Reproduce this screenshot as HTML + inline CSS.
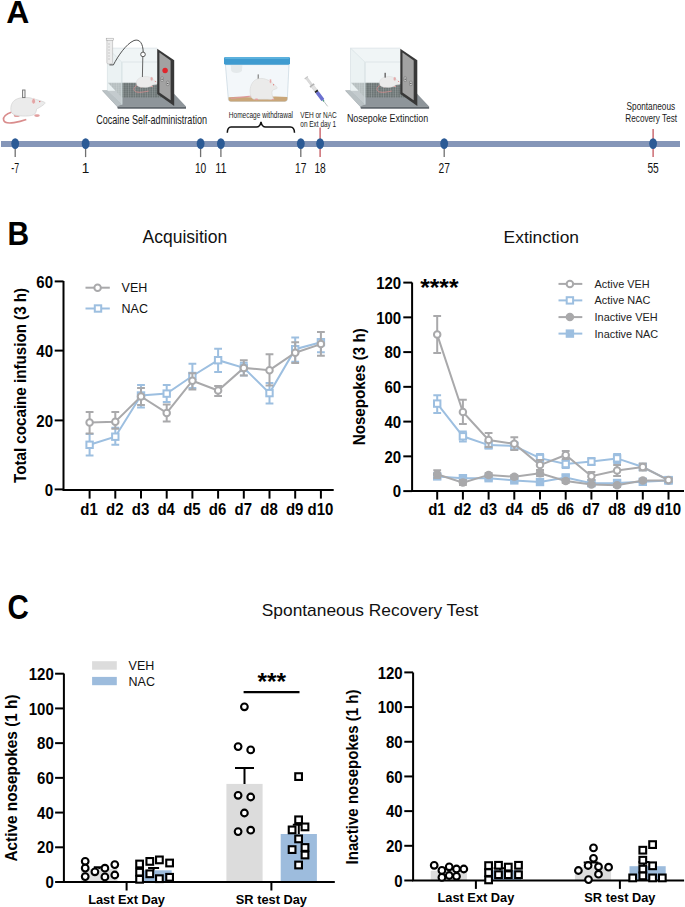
<!DOCTYPE html>
<html><head><meta charset="utf-8"><style>
html,body{margin:0;padding:0;background:#fff;width:685px;height:907px;overflow:hidden}
svg{display:block;font-family:"Liberation Sans",sans-serif}
</style></head><body>
<svg width="685" height="907" viewBox="0 0 685 907">
<defs>
<pattern id="grid" width="2.4" height="2.0" patternUnits="userSpaceOnUse">
<rect width="2.4" height="2.0" fill="#646d6d"/>
<ellipse cx="1.2" cy="1.0" rx="0.8" ry="0.55" fill="#b4bbbb"/>
</pattern>

</defs>
<!-- mouse A -->
<path d="M12,112 C6,114 3,117 3.6,120 C4.2,123 9,123.3 14,122.6 C19,122 23,120.8 26.3,119.6" fill="none" stroke="#d98c8c" stroke-width="1.6"/>
<ellipse cx="16.8" cy="115.6" rx="3" ry="1.5" fill="#e19f9f"/>
<ellipse cx="37" cy="115.6" rx="2.8" ry="1.4" fill="#e19f9f"/>
<path d="M11.4,112.4 C10.2,109 10.6,103 15,100 C18,98 22,97.4 26.3,97.5 C29,97.5 31.5,98 33.5,98.8 C36,99.5 38,100 40,100.6 L44.6,102.2 C45.3,102.6 45,103.6 44.2,104.2 L41.2,106.4 C39.5,107.4 37.5,108.5 36.6,109.2 C36.2,111.5 35.8,113.5 34,114.6 C31,116 27,116.2 22,116 C17,115.8 13,115 11.4,112.4 Z" fill="#ebebeb" stroke="#d2d2d2" stroke-width="0.7"/>
<ellipse cx="33.6" cy="101.2" rx="2" ry="2.9" fill="#e3a5a5" stroke="#f2f2f2" stroke-width="0.8"/>
<circle cx="39.8" cy="101.6" r="0.6" fill="#d8333b"/>
<rect x="22.6" y="90" width="2.4" height="7.6" fill="#f4f4f4" stroke="#6e6e6e" stroke-width="0.9"/>
<!-- chamber 1 -->
<g>
<polygon points="102,90.5 171,90.5 186,106.6 117.1,106.6" fill="#8e959a"/>
<polygon points="117.1,106.6 186,106.6 186,108.7 117.8,108.7" fill="#5f666c"/>
<polygon points="107.4,48.1 157.2,48.1 157.2,90.5 107.4,90.5" fill="#f0f5f6"/>
<polygon points="122.2,61.6 157.2,61.6 157.2,62.4 122.2,62.4" fill="#dde6e8"/>
<polygon points="107.9,82.8 157.8,82.8 168,97.4 121.7,97.4" fill="url(#grid)"/>
<polygon points="107.4,48.1 121.9,62.2 121.9,104.6 107.4,90.5" fill="#e8f0f2" fill-opacity="0.6" stroke="#d3dde0" stroke-width="0.6"/>
<polygon points="102.2,90.6 107.4,90.6 121.9,104.6 116.9,106.4" fill="#b9c1c4"/>
<line x1="121.9" y1="62.2" x2="121.9" y2="104.6" stroke="#d3dde0" stroke-width="0.6"/>
<line x1="107.4" y1="48.1" x2="157.2" y2="48.1" stroke="#d3dde0" stroke-width="0.6"/>
<g transform="translate(134.5,74.6) scale(0.245,0.235)">
<path d="M12,46 C-4,50 -8,70 8,74 C24,78 40,73 58,70" fill="none" stroke="#d98e8e" stroke-width="3.2"/>
<ellipse cx="28" cy="51" rx="7" ry="3.5" fill="#e4a2a2"/>
<ellipse cx="70" cy="50" rx="6" ry="3" fill="#e4a2a2"/>
<path d="M8,40 C4,24 20,8 44,8 C58,7 68,12 76,20 L94,33 C98,36 96,41 90,42 L74,44 C66,54 44,56 26,54 C14,52 9,47 8,40 Z" fill="#ebebeb" stroke="#cdcdcd" stroke-width="1.2"/>
<ellipse cx="70" cy="18" rx="5" ry="8" fill="#e6aaaa" stroke="#dcdcdc" stroke-width="1"/>
<circle cx="85" cy="30" r="2" fill="#d8333b"/>
</g>
<polygon points="157.2,48.8 174.2,60.2 174.2,106 157.2,94" fill="#383838"/>
<polygon points="159.4,52.6 170.6,60.4 170.6,100.2 159.4,92.6" fill="#a2a2a2"/>
<rect x="160.8" y="77" width="2.6" height="4.4" rx="0.8" fill="#c9c9c9" stroke="#666" stroke-width="0.5"/>
<rect x="166.4" y="81.2" width="2.6" height="4.4" rx="0.8" fill="#c9c9c9" stroke="#666" stroke-width="0.5"/>
<circle cx="162.1" cy="79.2" r="0.7" fill="#555"/>
<circle cx="167.7" cy="83.4" r="0.7" fill="#555"/>
</g>
<circle cx="165.1" cy="70.5" r="2.7" fill="#e0262c"/>
<rect x="106.9" y="39.5" width="5.7" height="24.5" rx="1.5" fill="#ececec" stroke="#b0b0b0" stroke-width="0.6"/><path d="M108,44 h2 M108,47 h2 M108,50 h2 M108,53 h2 M108,56 h2 M108,59 h2" stroke="#999" stroke-width="0.4"/>
<rect x="106.2" y="38.2" width="7.1" height="2" fill="#f7f7f7" stroke="#999" stroke-width="0.5"/>
<path d="M109.4,64.9 L113.4,64.9 C118,56 126,44 134,40.5 C140,38.5 143,44 143.2,52" fill="none" stroke="#333" stroke-width="0.85"/>
<circle cx="143" cy="54.4" r="2.3" fill="#fff" stroke="#333" stroke-width="0.8"/>
<line x1="142.8" y1="56.7" x2="142.4" y2="77" stroke="#555" stroke-width="0.9"/>
<!-- chamber 2 -->
<g transform="translate(243.1,0)">
<polygon points="102,90.5 171,90.5 186,106.6 117.1,106.6" fill="#8e959a"/>
<polygon points="117.1,106.6 186,106.6 186,108.7 117.8,108.7" fill="#5f666c"/>
<polygon points="107.4,48.1 157.2,48.1 157.2,90.5 107.4,90.5" fill="#f0f5f6"/>
<polygon points="122.2,61.6 157.2,61.6 157.2,62.4 122.2,62.4" fill="#dde6e8"/>
<polygon points="107.9,82.8 157.8,82.8 168,97.4 121.7,97.4" fill="url(#grid)"/>
<polygon points="107.4,48.1 121.9,62.2 121.9,104.6 107.4,90.5" fill="#e8f0f2" fill-opacity="0.6" stroke="#d3dde0" stroke-width="0.6"/>
<polygon points="102.2,90.6 107.4,90.6 121.9,104.6 116.9,106.4" fill="#b9c1c4"/>
<line x1="121.9" y1="62.2" x2="121.9" y2="104.6" stroke="#d3dde0" stroke-width="0.6"/>
<line x1="107.4" y1="48.1" x2="157.2" y2="48.1" stroke="#d3dde0" stroke-width="0.6"/>
<g transform="translate(134.5,74.6) scale(0.245,0.235)">
<path d="M12,46 C-4,50 -8,70 8,74 C24,78 40,73 58,70" fill="none" stroke="#d98e8e" stroke-width="3.2"/>
<ellipse cx="28" cy="51" rx="7" ry="3.5" fill="#e4a2a2"/>
<ellipse cx="70" cy="50" rx="6" ry="3" fill="#e4a2a2"/>
<path d="M8,40 C4,24 20,8 44,8 C58,7 68,12 76,20 L94,33 C98,36 96,41 90,42 L74,44 C66,54 44,56 26,54 C14,52 9,47 8,40 Z" fill="#ebebeb" stroke="#cdcdcd" stroke-width="1.2"/>
<ellipse cx="70" cy="18" rx="5" ry="8" fill="#e6aaaa" stroke="#dcdcdc" stroke-width="1"/>
<circle cx="85" cy="30" r="2" fill="#d8333b"/>
</g>
<polygon points="157.2,48.8 174.2,60.2 174.2,106 157.2,94" fill="#383838"/>
<polygon points="159.4,52.6 170.6,60.4 170.6,100.2 159.4,92.6" fill="#a2a2a2"/>
<rect x="160.8" y="77" width="2.6" height="4.4" rx="0.8" fill="#c9c9c9" stroke="#666" stroke-width="0.5"/>
<rect x="166.4" y="81.2" width="2.6" height="4.4" rx="0.8" fill="#c9c9c9" stroke="#666" stroke-width="0.5"/>
<circle cx="162.1" cy="79.2" r="0.7" fill="#555"/>
<circle cx="167.7" cy="83.4" r="0.7" fill="#555"/>
</g>
<rect x="384.4" y="72.8" width="1.6" height="4.8" fill="#777"/>
<!-- homecage -->
<path d="M225.4,64.6 L289,64.6 L287.3,99.6 Q287.1,101.4 285,101.4 L230.6,101.4 Q228.6,101.4 228.4,99.6 Z" fill="#f3f7fa" stroke="#c6d6e0" stroke-width="0.7"/>
<path d="M228.5,97.2 Q236,96.3 244,96.9 Q256,97.6 266,96.7 Q277,96 287.4,96.9 L287.3,99.6 Q287.1,101.4 285,101.4 L230.6,101.4 Q228.6,101.4 228.5,99.6 Z" fill="#c9a679"/>
<path d="M230.7,64.6 L242.4,64.6 L242,70.5 Q241,72.9 236.5,72.9 Q231.8,72.9 231.2,70.5 Z" fill="#e4e9eb"/>
<rect x="224" y="57.1" width="66" height="7.6" rx="1.4" fill="#3f9bd0"/>
<rect x="224.8" y="57.1" width="64.4" height="1.8" rx="0.9" fill="#5cb1dd"/>
<path d="M252,96 C245,96.8 238,97.8 230.8,98.2" fill="none" stroke="#de9a9a" stroke-width="1.2"/>
<rect x="257.6" y="74.4" width="1.3" height="5" fill="#8a8a8a"/>
<path d="M251.5,97.5 C249,93 249.5,84.5 254.5,80.5 C258,77.8 263,78 266.5,79.5 C268.5,80.3 270.5,81 272,82.5 L277.2,87.4 C277.5,88.2 276.8,88.8 275.6,89 C274.2,89.4 273,89.8 272.2,90.8 C271.6,93 272.2,96.5 273.6,98.6 C274,99.4 273,99.6 271.8,99.4 C266,99.2 258,99.4 254,99.2 C252.8,99 251.9,98.4 251.5,97.5 Z" fill="#ebebea" stroke="#d2d2d0" stroke-width="0.5"/>
<ellipse cx="270.5" cy="81.2" rx="1.1" ry="2.2" fill="#e6a9a9" stroke="#f3f3f3" stroke-width="0.5"/>
<circle cx="273.6" cy="84.8" r="0.5" fill="#d33"/>
<ellipse cx="256.5" cy="99.4" rx="1.8" ry="0.8" fill="#e3a0a0"/>
<ellipse cx="273" cy="99.4" rx="1.4" ry="0.7" fill="#e3a0a0"/>
<!-- syringe -->
<g transform="translate(305.9,77.2) rotate(53.3)">
<rect x="0" y="-2" width="1.3" height="4" fill="#c4c4c4"/>
<rect x="1" y="-1.1" width="8.5" height="2.2" fill="#dcdcdc" stroke="#bdbdbd" stroke-width="0.3"/>
<rect x="9.5" y="-2.6" width="1.7" height="5.2" fill="#b0b0b0"/>
<rect x="11" y="-1.6" width="5.8" height="3.2" fill="#e2e2e2" stroke="#bdbdbd" stroke-width="0.3"/>
<rect x="16.8" y="-1.75" width="1.9" height="3.5" fill="#222"/>
<rect x="18.6" y="-1.75" width="10" height="3.5" rx="0.6" fill="#6b70d0"/>
<rect x="28.6" y="-0.8" width="1.6" height="1.6" fill="#4f9c84"/>
<line x1="30.2" y1="0" x2="36.4" y2="0" stroke="#9aa4a4" stroke-width="0.6"/>
</g>

<text transform="translate(6.30,22.60) scale(1.065,1.06)" x="0" y="0" font-size="30" text-anchor="start" font-weight="bold" fill="#000" >A</text>
<rect x="1" y="141" width="679" height="6" fill="#8596b8"/>
<line x1="15.2" y1="147" x2="15.2" y2="157.1" stroke="#707070" stroke-width="1.3"/>
<ellipse cx="15.2" cy="143.6" rx="3.9" ry="5.4" fill="#2b5a95"/>
<text transform="translate(15.20,172.90) scale(1,1.09)" x="0" y="0" font-size="13.6" text-anchor="middle" font-weight="normal" fill="#111" textLength="7.8" lengthAdjust="spacingAndGlyphs" >-7</text>
<line x1="85.6" y1="147" x2="85.6" y2="157.1" stroke="#707070" stroke-width="1.3"/>
<ellipse cx="85.6" cy="143.6" rx="3.9" ry="5.4" fill="#2b5a95"/>
<text transform="translate(85.60,172.90) scale(1,1.09)" x="0" y="0" font-size="13.6" text-anchor="middle" font-weight="normal" fill="#111" >1</text>
<line x1="200.6" y1="147" x2="200.6" y2="157.1" stroke="#707070" stroke-width="1.3"/>
<ellipse cx="200.6" cy="143.6" rx="3.9" ry="5.4" fill="#2b5a95"/>
<text transform="translate(200.60,172.90) scale(1,1.09)" x="0" y="0" font-size="13.6" text-anchor="middle" font-weight="normal" fill="#111" textLength="11.4" lengthAdjust="spacingAndGlyphs" >10</text>
<line x1="220.9" y1="147" x2="220.9" y2="157.1" stroke="#707070" stroke-width="1.3"/>
<ellipse cx="220.9" cy="143.6" rx="3.9" ry="5.4" fill="#2b5a95"/>
<text transform="translate(220.90,172.90) scale(1,1.09)" x="0" y="0" font-size="13.6" text-anchor="middle" font-weight="normal" fill="#111" textLength="11.4" lengthAdjust="spacingAndGlyphs" >11</text>
<line x1="300.8" y1="147" x2="300.8" y2="157.1" stroke="#707070" stroke-width="1.3"/>
<ellipse cx="300.8" cy="143.6" rx="3.9" ry="5.4" fill="#2b5a95"/>
<text transform="translate(300.80,172.90) scale(1,1.09)" x="0" y="0" font-size="13.6" text-anchor="middle" font-weight="normal" fill="#111" textLength="11.4" lengthAdjust="spacingAndGlyphs" >17</text>
<line x1="320.1" y1="127.5" x2="320.1" y2="157" stroke="#c4545c" stroke-width="1.3"/>
<ellipse cx="320.1" cy="143.6" rx="3.9" ry="5.4" fill="#2b5a95"/>
<text transform="translate(320.10,172.90) scale(1,1.09)" x="0" y="0" font-size="13.6" text-anchor="middle" font-weight="normal" fill="#111" textLength="11.4" lengthAdjust="spacingAndGlyphs" >18</text>
<line x1="444.2" y1="147" x2="444.2" y2="157.1" stroke="#707070" stroke-width="1.3"/>
<ellipse cx="444.2" cy="143.6" rx="3.9" ry="5.4" fill="#2b5a95"/>
<text transform="translate(444.20,172.90) scale(1,1.09)" x="0" y="0" font-size="13.6" text-anchor="middle" font-weight="normal" fill="#111" textLength="11.4" lengthAdjust="spacingAndGlyphs" >27</text>
<line x1="653.1" y1="129" x2="653.1" y2="157" stroke="#c4545c" stroke-width="1.3"/>
<ellipse cx="653.1" cy="143.6" rx="3.9" ry="5.4" fill="#2b5a95"/>
<text transform="translate(653.10,172.90) scale(1,1.09)" x="0" y="0" font-size="13.6" text-anchor="middle" font-weight="normal" fill="#111" textLength="11.4" lengthAdjust="spacingAndGlyphs" >55</text>
<text x="96.20" y="123.90" font-size="13.6" text-anchor="start" font-weight="normal" fill="#1a1a1a" textLength="110.8" lengthAdjust="spacingAndGlyphs" >Cocaine Self-administration</text>
<text x="228.80" y="118.30" font-size="9.5" text-anchor="start" font-weight="normal" fill="#1a1a1a" textLength="64.2" lengthAdjust="spacingAndGlyphs" >Homecage withdrawal</text>
<text x="300.30" y="118.30" font-size="9.8" text-anchor="start" font-weight="normal" fill="#1a1a1a" textLength="36.5" lengthAdjust="spacingAndGlyphs" >VEH or NAC</text>
<text x="300.30" y="127.40" font-size="9.8" text-anchor="start" font-weight="normal" fill="#1a1a1a" textLength="35.9" lengthAdjust="spacingAndGlyphs" >on Ext day 1</text>
<text x="346.90" y="122.40" font-size="11.6" text-anchor="start" font-weight="normal" fill="#1a1a1a" textLength="81.3" lengthAdjust="spacingAndGlyphs" >Nosepoke Extinction</text>
<text x="626.60" y="110.40" font-size="11.6" text-anchor="start" font-weight="normal" fill="#1a1a1a" textLength="48.5" lengthAdjust="spacingAndGlyphs" >Spontaneous</text>
<text x="625.30" y="121.60" font-size="11.6" text-anchor="start" font-weight="normal" fill="#1a1a1a" textLength="51.8" lengthAdjust="spacingAndGlyphs" >Recovery Test</text>
<path d="M227.3,132.8 Q227.5,127 231,127 L256.5,127 Q260,127 261,121.8 Q262,127 265.6,127 L290.5,127 Q294.3,127 294.5,132.8" fill="none" stroke="#111" stroke-width="1.5"/>
<text transform="translate(7.60,245.00) scale(1,1.09)" x="0" y="0" font-size="30" text-anchor="start" font-weight="bold" fill="#000" >B</text>
<text x="142.60" y="243.20" font-size="17.5" text-anchor="start" font-weight="normal" fill="#111" >Acquisition</text>
<text x="503.60" y="243.20" font-size="17.4" text-anchor="start" font-weight="normal" fill="#111" >Extinction</text>
<path d="M63.5,281 V490 H333.7" fill="none" stroke="#000" stroke-width="2"/>
<line x1="54.7" y1="281.4" x2="63.5" y2="281.4" stroke="#000" stroke-width="2"/>
<text transform="translate(53.00,281.40) scale(1,1.15)" x="0" y="5.35" font-size="15" text-anchor="end" font-weight="bold" fill="#000" >60</text>
<line x1="54.7" y1="350.6" x2="63.5" y2="350.6" stroke="#000" stroke-width="2"/>
<text transform="translate(53.00,350.60) scale(1,1.15)" x="0" y="5.35" font-size="15" text-anchor="end" font-weight="bold" fill="#000" >40</text>
<line x1="54.7" y1="420.4" x2="63.5" y2="420.4" stroke="#000" stroke-width="2"/>
<text transform="translate(53.00,420.40) scale(1,1.15)" x="0" y="5.35" font-size="15" text-anchor="end" font-weight="bold" fill="#000" >20</text>
<line x1="54.7" y1="489.4" x2="63.5" y2="489.4" stroke="#000" stroke-width="2"/>
<text transform="translate(53.00,489.40) scale(1,1.15)" x="0" y="5.35" font-size="15" text-anchor="end" font-weight="bold" fill="#000" >0</text>
<line x1="89.6" y1="490" x2="89.6" y2="498.6" stroke="#000" stroke-width="2"/>
<text transform="translate(89.10,514.80) scale(1.0,1.09)" x="0" y="0" font-size="15" text-anchor="middle" font-weight="bold" fill="#000" >d1</text>
<line x1="115.3" y1="490" x2="115.3" y2="498.6" stroke="#000" stroke-width="2"/>
<text transform="translate(114.80,514.80) scale(1.0,1.09)" x="0" y="0" font-size="15" text-anchor="middle" font-weight="bold" fill="#000" >d2</text>
<line x1="141.0" y1="490" x2="141.0" y2="498.6" stroke="#000" stroke-width="2"/>
<text transform="translate(140.50,514.80) scale(1.0,1.09)" x="0" y="0" font-size="15" text-anchor="middle" font-weight="bold" fill="#000" >d3</text>
<line x1="166.7" y1="490" x2="166.7" y2="498.6" stroke="#000" stroke-width="2"/>
<text transform="translate(166.20,514.80) scale(1.0,1.09)" x="0" y="0" font-size="15" text-anchor="middle" font-weight="bold" fill="#000" >d4</text>
<line x1="192.39999999999998" y1="490" x2="192.39999999999998" y2="498.6" stroke="#000" stroke-width="2"/>
<text transform="translate(191.90,514.80) scale(1.0,1.09)" x="0" y="0" font-size="15" text-anchor="middle" font-weight="bold" fill="#000" >d5</text>
<line x1="218.1" y1="490" x2="218.1" y2="498.6" stroke="#000" stroke-width="2"/>
<text transform="translate(217.60,514.80) scale(1.0,1.09)" x="0" y="0" font-size="15" text-anchor="middle" font-weight="bold" fill="#000" >d6</text>
<line x1="243.79999999999998" y1="490" x2="243.79999999999998" y2="498.6" stroke="#000" stroke-width="2"/>
<text transform="translate(243.30,514.80) scale(1.0,1.09)" x="0" y="0" font-size="15" text-anchor="middle" font-weight="bold" fill="#000" >d7</text>
<line x1="269.5" y1="490" x2="269.5" y2="498.6" stroke="#000" stroke-width="2"/>
<text transform="translate(269.00,514.80) scale(1.0,1.09)" x="0" y="0" font-size="15" text-anchor="middle" font-weight="bold" fill="#000" >d8</text>
<line x1="295.2" y1="490" x2="295.2" y2="498.6" stroke="#000" stroke-width="2"/>
<text transform="translate(294.70,514.80) scale(1.0,1.09)" x="0" y="0" font-size="15" text-anchor="middle" font-weight="bold" fill="#000" >d9</text>
<line x1="320.9" y1="490" x2="320.9" y2="498.6" stroke="#000" stroke-width="2"/>
<text transform="translate(320.40,514.80) scale(1.0,1.09)" x="0" y="0" font-size="15" text-anchor="middle" font-weight="bold" fill="#000" >d10</text>
<text transform="translate(25.6,385.4) rotate(-90)" x="0" y="0" font-size="16.2" font-weight="bold" text-anchor="middle" textLength="195" lengthAdjust="spacingAndGlyphs">Total cocaine infusion (3 h)</text>
<path d="M89.6,434 V455.6 M85.69999999999999,434 H93.5 M85.69999999999999,455.6 H93.5" stroke="#9dbfe0" stroke-width="2" fill="none"/>
<path d="M115.3,427.7 V444.8 M111.39999999999999,427.7 H119.2 M111.39999999999999,444.8 H119.2" stroke="#9dbfe0" stroke-width="2" fill="none"/>
<path d="M141.0,385 V407.4 M137.1,385 H144.9 M137.1,407.4 H144.9" stroke="#9dbfe0" stroke-width="2" fill="none"/>
<path d="M166.7,385 V402.1 M162.79999999999998,385 H170.6 M162.79999999999998,402.1 H170.6" stroke="#9dbfe0" stroke-width="2" fill="none"/>
<path d="M192.39999999999998,363.7 V388 M188.49999999999997,363.7 H196.29999999999998 M188.49999999999997,388 H196.29999999999998" stroke="#9dbfe0" stroke-width="2" fill="none"/>
<path d="M218.1,348.7 V371.9 M214.2,348.7 H222.0 M214.2,371.9 H222.0" stroke="#9dbfe0" stroke-width="2" fill="none"/>
<path d="M243.79999999999998,362.7 V375.6 M239.89999999999998,362.7 H247.7 M239.89999999999998,375.6 H247.7" stroke="#9dbfe0" stroke-width="2" fill="none"/>
<path d="M269.5,383 V403.4 M265.6,383 H273.4 M265.6,403.4 H273.4" stroke="#9dbfe0" stroke-width="2" fill="none"/>
<path d="M295.2,337.5 V361.8 M291.3,337.5 H299.09999999999997 M291.3,361.8 H299.09999999999997" stroke="#9dbfe0" stroke-width="2" fill="none"/>
<path d="M320.9,339.5 V352.3 M317.0,339.5 H324.79999999999995 M317.0,352.3 H324.79999999999995" stroke="#9dbfe0" stroke-width="2" fill="none"/>
<polyline fill="none" stroke="#9dbfe0" stroke-width="2" points="89.6,444.8 115.3,436.7 141.0,395.5 166.7,393.6 192.39999999999998,376 218.1,360.2 243.79999999999998,367.9 269.5,393.1 295.2,349.2 320.9,342.2"/>
<rect x="86.39999999999999" y="441.6" width="6.4" height="6.4" fill="#fff" stroke="#9dbfe0" stroke-width="2"/>
<rect x="112.1" y="433.5" width="6.4" height="6.4" fill="#fff" stroke="#9dbfe0" stroke-width="2"/>
<rect x="137.8" y="392.3" width="6.4" height="6.4" fill="#fff" stroke="#9dbfe0" stroke-width="2"/>
<rect x="163.5" y="390.40000000000003" width="6.4" height="6.4" fill="#fff" stroke="#9dbfe0" stroke-width="2"/>
<rect x="189.2" y="372.8" width="6.4" height="6.4" fill="#fff" stroke="#9dbfe0" stroke-width="2"/>
<rect x="214.9" y="357.0" width="6.4" height="6.4" fill="#fff" stroke="#9dbfe0" stroke-width="2"/>
<rect x="240.6" y="364.7" width="6.4" height="6.4" fill="#fff" stroke="#9dbfe0" stroke-width="2"/>
<rect x="266.3" y="389.90000000000003" width="6.4" height="6.4" fill="#fff" stroke="#9dbfe0" stroke-width="2"/>
<rect x="292.0" y="346.0" width="6.4" height="6.4" fill="#fff" stroke="#9dbfe0" stroke-width="2"/>
<rect x="317.7" y="339.0" width="6.4" height="6.4" fill="#fff" stroke="#9dbfe0" stroke-width="2"/>
<path d="M89.6,412 V433.4 M85.69999999999999,412 H93.5 M85.69999999999999,433.4 H93.5" stroke="#a9a9ab" stroke-width="2" fill="none"/>
<path d="M115.3,412 V428.7 M111.39999999999999,412 H119.2 M111.39999999999999,428.7 H119.2" stroke="#a9a9ab" stroke-width="2" fill="none"/>
<path d="M141.0,387.9 V405 M137.1,387.9 H144.9 M137.1,405 H144.9" stroke="#a9a9ab" stroke-width="2" fill="none"/>
<path d="M166.7,404.6 V421.5 M162.79999999999998,404.6 H170.6 M162.79999999999998,421.5 H170.6" stroke="#a9a9ab" stroke-width="2" fill="none"/>
<path d="M192.39999999999998,373.3 V389.6 M188.49999999999997,373.3 H196.29999999999998 M188.49999999999997,389.6 H196.29999999999998" stroke="#a9a9ab" stroke-width="2" fill="none"/>
<path d="M218.1,385.9 V395.9 M214.2,385.9 H222.0 M214.2,395.9 H222.0" stroke="#a9a9ab" stroke-width="2" fill="none"/>
<path d="M243.79999999999998,360.2 V375.6 M239.89999999999998,360.2 H247.7 M239.89999999999998,375.6 H247.7" stroke="#a9a9ab" stroke-width="2" fill="none"/>
<path d="M269.5,354.3 V385.4 M265.6,354.3 H273.4 M265.6,385.4 H273.4" stroke="#a9a9ab" stroke-width="2" fill="none"/>
<path d="M295.2,342.2 V363 M291.3,342.2 H299.09999999999997 M291.3,363 H299.09999999999997" stroke="#a9a9ab" stroke-width="2" fill="none"/>
<path d="M320.9,332.1 V355.7 M317.0,332.1 H324.79999999999995 M317.0,355.7 H324.79999999999995" stroke="#a9a9ab" stroke-width="2" fill="none"/>
<polyline fill="none" stroke="#a9a9ab" stroke-width="2" points="89.6,422.6 115.3,421.7 141.0,396.4 166.7,412.9 192.39999999999998,380.7 218.1,390.5 243.79999999999998,367.9 269.5,370.2 295.2,352.7 320.9,344.1"/>
<circle cx="89.6" cy="422.6" r="3.25" fill="#fff" stroke="#a9a9ab" stroke-width="2"/>
<circle cx="115.3" cy="421.7" r="3.25" fill="#fff" stroke="#a9a9ab" stroke-width="2"/>
<circle cx="141.0" cy="396.4" r="3.25" fill="#fff" stroke="#a9a9ab" stroke-width="2"/>
<circle cx="166.7" cy="412.9" r="3.25" fill="#fff" stroke="#a9a9ab" stroke-width="2"/>
<circle cx="192.39999999999998" cy="380.7" r="3.25" fill="#fff" stroke="#a9a9ab" stroke-width="2"/>
<circle cx="218.1" cy="390.5" r="3.25" fill="#fff" stroke="#a9a9ab" stroke-width="2"/>
<circle cx="243.79999999999998" cy="367.9" r="3.25" fill="#fff" stroke="#a9a9ab" stroke-width="2"/>
<circle cx="269.5" cy="370.2" r="3.25" fill="#fff" stroke="#a9a9ab" stroke-width="2"/>
<circle cx="295.2" cy="352.7" r="3.25" fill="#fff" stroke="#a9a9ab" stroke-width="2"/>
<circle cx="320.9" cy="344.1" r="3.25" fill="#fff" stroke="#a9a9ab" stroke-width="2"/>
<line x1="85.5" y1="287.7" x2="109.8" y2="287.7" stroke="#a9a9ab" stroke-width="2"/>
<circle cx="97.6" cy="287.7" r="3.25" fill="#fff" stroke="#a9a9ab" stroke-width="2"/>
<line x1="85.5" y1="308.5" x2="109.8" y2="308.5" stroke="#9dbfe0" stroke-width="2"/>
<rect x="94.8" y="305.3" width="6.4" height="6.4" fill="#fff" stroke="#9dbfe0" stroke-width="2"/>
<text x="121.60" y="292.30" font-size="12.5" text-anchor="start" font-weight="normal" fill="#111" >VEH</text>
<text x="121.60" y="313.10" font-size="12.5" text-anchor="start" font-weight="normal" fill="#111" >NAC</text>
<path d="M412.1,282.4 V491.0 H684" fill="none" stroke="#000" stroke-width="2"/>
<line x1="403.3" y1="282.6" x2="412.1" y2="282.6" stroke="#000" stroke-width="2"/>
<text transform="translate(401.20,282.60) scale(1,1.15)" x="0" y="5.35" font-size="15" text-anchor="end" font-weight="bold" fill="#000" >120</text>
<line x1="403.3" y1="317.35" x2="412.1" y2="317.35" stroke="#000" stroke-width="2"/>
<text transform="translate(401.20,317.35) scale(1,1.15)" x="0" y="5.35" font-size="15" text-anchor="end" font-weight="bold" fill="#000" >100</text>
<line x1="403.3" y1="352.1" x2="412.1" y2="352.1" stroke="#000" stroke-width="2"/>
<text transform="translate(401.20,352.10) scale(1,1.15)" x="0" y="5.35" font-size="15" text-anchor="end" font-weight="bold" fill="#000" >80</text>
<line x1="403.3" y1="386.85" x2="412.1" y2="386.85" stroke="#000" stroke-width="2"/>
<text transform="translate(401.20,386.85) scale(1,1.15)" x="0" y="5.35" font-size="15" text-anchor="end" font-weight="bold" fill="#000" >60</text>
<line x1="403.3" y1="421.6" x2="412.1" y2="421.6" stroke="#000" stroke-width="2"/>
<text transform="translate(401.20,421.60) scale(1,1.15)" x="0" y="5.35" font-size="15" text-anchor="end" font-weight="bold" fill="#000" >40</text>
<line x1="403.3" y1="456.35" x2="412.1" y2="456.35" stroke="#000" stroke-width="2"/>
<text transform="translate(401.20,456.35) scale(1,1.15)" x="0" y="5.35" font-size="15" text-anchor="end" font-weight="bold" fill="#000" >20</text>
<line x1="403.3" y1="491.1" x2="412.1" y2="491.1" stroke="#000" stroke-width="2"/>
<text transform="translate(401.20,491.10) scale(1,1.15)" x="0" y="5.35" font-size="15" text-anchor="end" font-weight="bold" fill="#000" >0</text>
<line x1="437.2" y1="491.0" x2="437.2" y2="499.6" stroke="#000" stroke-width="2"/>
<text transform="translate(436.90,514.80) scale(1.0,1.06)" x="0" y="0" font-size="15" text-anchor="middle" font-weight="bold" fill="#000" >d1</text>
<line x1="462.9" y1="491.0" x2="462.9" y2="499.6" stroke="#000" stroke-width="2"/>
<text transform="translate(462.60,514.80) scale(1.0,1.06)" x="0" y="0" font-size="15" text-anchor="middle" font-weight="bold" fill="#000" >d2</text>
<line x1="488.59999999999997" y1="491.0" x2="488.59999999999997" y2="499.6" stroke="#000" stroke-width="2"/>
<text transform="translate(488.30,514.80) scale(1.0,1.06)" x="0" y="0" font-size="15" text-anchor="middle" font-weight="bold" fill="#000" >d3</text>
<line x1="514.3" y1="491.0" x2="514.3" y2="499.6" stroke="#000" stroke-width="2"/>
<text transform="translate(514.00,514.80) scale(1.0,1.06)" x="0" y="0" font-size="15" text-anchor="middle" font-weight="bold" fill="#000" >d4</text>
<line x1="540.0" y1="491.0" x2="540.0" y2="499.6" stroke="#000" stroke-width="2"/>
<text transform="translate(539.70,514.80) scale(1.0,1.06)" x="0" y="0" font-size="15" text-anchor="middle" font-weight="bold" fill="#000" >d5</text>
<line x1="565.7" y1="491.0" x2="565.7" y2="499.6" stroke="#000" stroke-width="2"/>
<text transform="translate(565.40,514.80) scale(1.0,1.06)" x="0" y="0" font-size="15" text-anchor="middle" font-weight="bold" fill="#000" >d6</text>
<line x1="591.4" y1="491.0" x2="591.4" y2="499.6" stroke="#000" stroke-width="2"/>
<text transform="translate(591.10,514.80) scale(1.0,1.06)" x="0" y="0" font-size="15" text-anchor="middle" font-weight="bold" fill="#000" >d7</text>
<line x1="617.1" y1="491.0" x2="617.1" y2="499.6" stroke="#000" stroke-width="2"/>
<text transform="translate(616.80,514.80) scale(1.0,1.06)" x="0" y="0" font-size="15" text-anchor="middle" font-weight="bold" fill="#000" >d8</text>
<line x1="642.8" y1="491.0" x2="642.8" y2="499.6" stroke="#000" stroke-width="2"/>
<text transform="translate(642.50,514.80) scale(1.0,1.06)" x="0" y="0" font-size="15" text-anchor="middle" font-weight="bold" fill="#000" >d9</text>
<line x1="668.5" y1="491.0" x2="668.5" y2="499.6" stroke="#000" stroke-width="2"/>
<text transform="translate(668.20,514.80) scale(1.0,1.06)" x="0" y="0" font-size="15" text-anchor="middle" font-weight="bold" fill="#000" >d10</text>
<text transform="translate(365,386.8) rotate(-90)" x="0" y="0" font-size="16.5" font-weight="bold" text-anchor="middle" textLength="117" lengthAdjust="spacingAndGlyphs">Nosepokes (3 h)</text>
<text x="420.20" y="295.90" font-size="24.6" text-anchor="start" font-weight="bold" fill="#000" >****</text>
<path d="M437.2,474 V479 M433.3,474 H441.09999999999997 M433.3,479 H441.09999999999997" stroke="#9dbfe0" stroke-width="2" fill="none"/>
<path d="M462.9,476 V480 M459.0,476 H466.79999999999995 M459.0,480 H466.79999999999995" stroke="#9dbfe0" stroke-width="2" fill="none"/>
<path d="M488.59999999999997,476 V480 M484.7,476 H492.49999999999994 M484.7,480 H492.49999999999994" stroke="#9dbfe0" stroke-width="2" fill="none"/>
<path d="M514.3,478 V482 M510.4,478 H518.1999999999999 M510.4,482 H518.1999999999999" stroke="#9dbfe0" stroke-width="2" fill="none"/>
<path d="M540.0,480 V484 M536.1,480 H543.9 M536.1,484 H543.9" stroke="#9dbfe0" stroke-width="2" fill="none"/>
<path d="M565.7,475 V479 M561.8000000000001,475 H569.6 M561.8000000000001,479 H569.6" stroke="#9dbfe0" stroke-width="2" fill="none"/>
<path d="M591.4,481 V485 M587.5,481 H595.3 M587.5,485 H595.3" stroke="#9dbfe0" stroke-width="2" fill="none"/>
<path d="M617.1,481 V485 M613.2,481 H621.0 M613.2,485 H621.0" stroke="#9dbfe0" stroke-width="2" fill="none"/>
<path d="M642.8,480 V483 M638.9,480 H646.6999999999999 M638.9,483 H646.6999999999999" stroke="#9dbfe0" stroke-width="2" fill="none"/>
<path d="M668.5,479 V482 M664.6,479 H672.4 M664.6,482 H672.4" stroke="#9dbfe0" stroke-width="2" fill="none"/>
<polyline fill="none" stroke="#9dbfe0" stroke-width="2" points="437.2,476.4 462.9,478.2 488.59999999999997,478.2 514.3,480.4 540.0,482 565.7,477.4 591.4,483.2 617.1,483 642.8,481.8 668.5,480.5"/>
<rect x="434.0" y="473.2" width="6.4" height="6.4" fill="#9dbfe0" stroke="#9dbfe0" stroke-width="2"/>
<rect x="459.7" y="475.0" width="6.4" height="6.4" fill="#9dbfe0" stroke="#9dbfe0" stroke-width="2"/>
<rect x="485.4" y="475.0" width="6.4" height="6.4" fill="#9dbfe0" stroke="#9dbfe0" stroke-width="2"/>
<rect x="511.09999999999997" y="477.2" width="6.4" height="6.4" fill="#9dbfe0" stroke="#9dbfe0" stroke-width="2"/>
<rect x="536.8" y="478.8" width="6.4" height="6.4" fill="#9dbfe0" stroke="#9dbfe0" stroke-width="2"/>
<rect x="562.5" y="474.2" width="6.4" height="6.4" fill="#9dbfe0" stroke="#9dbfe0" stroke-width="2"/>
<rect x="588.1999999999999" y="480.0" width="6.4" height="6.4" fill="#9dbfe0" stroke="#9dbfe0" stroke-width="2"/>
<rect x="613.9" y="479.8" width="6.4" height="6.4" fill="#9dbfe0" stroke="#9dbfe0" stroke-width="2"/>
<rect x="639.5999999999999" y="478.6" width="6.4" height="6.4" fill="#9dbfe0" stroke="#9dbfe0" stroke-width="2"/>
<rect x="665.3" y="477.3" width="6.4" height="6.4" fill="#9dbfe0" stroke="#9dbfe0" stroke-width="2"/>
<path d="M437.2,470.2 V478 M433.3,470.2 H441.09999999999997 M433.3,478 H441.09999999999997" stroke="#a9a9ab" stroke-width="2" fill="none"/>
<path d="M462.9,480 V485 M459.0,480 H466.79999999999995 M459.0,485 H466.79999999999995" stroke="#a9a9ab" stroke-width="2" fill="none"/>
<path d="M488.59999999999997,473 V477 M484.7,473 H492.49999999999994 M484.7,477 H492.49999999999994" stroke="#a9a9ab" stroke-width="2" fill="none"/>
<path d="M514.3,475 V479 M510.4,475 H518.1999999999999 M510.4,479 H518.1999999999999" stroke="#a9a9ab" stroke-width="2" fill="none"/>
<path d="M540.0,470 V476 M536.1,470 H543.9 M536.1,476 H543.9" stroke="#a9a9ab" stroke-width="2" fill="none"/>
<path d="M565.7,479 V483 M561.8000000000001,479 H569.6 M561.8000000000001,483 H569.6" stroke="#a9a9ab" stroke-width="2" fill="none"/>
<path d="M591.4,483 V486 M587.5,483 H595.3 M587.5,486 H595.3" stroke="#a9a9ab" stroke-width="2" fill="none"/>
<path d="M617.1,484 V487 M613.2,484 H621.0 M613.2,487 H621.0" stroke="#a9a9ab" stroke-width="2" fill="none"/>
<path d="M642.8,479 V482 M638.9,479 H646.6999999999999 M638.9,482 H646.6999999999999" stroke="#a9a9ab" stroke-width="2" fill="none"/>
<path d="M668.5,479 V482 M664.6,479 H672.4 M664.6,482 H672.4" stroke="#a9a9ab" stroke-width="2" fill="none"/>
<polyline fill="none" stroke="#a9a9ab" stroke-width="2" points="437.2,474.2 462.9,482.6 488.59999999999997,474.9 514.3,476.8 540.0,473.3 565.7,480.9 591.4,484.4 617.1,485.3 642.8,480.6 668.5,480.5"/>
<circle cx="437.2" cy="474.2" r="3.25" fill="#a9a9ab" stroke="#a9a9ab" stroke-width="2"/>
<circle cx="462.9" cy="482.6" r="3.25" fill="#a9a9ab" stroke="#a9a9ab" stroke-width="2"/>
<circle cx="488.59999999999997" cy="474.9" r="3.25" fill="#a9a9ab" stroke="#a9a9ab" stroke-width="2"/>
<circle cx="514.3" cy="476.8" r="3.25" fill="#a9a9ab" stroke="#a9a9ab" stroke-width="2"/>
<circle cx="540.0" cy="473.3" r="3.25" fill="#a9a9ab" stroke="#a9a9ab" stroke-width="2"/>
<circle cx="565.7" cy="480.9" r="3.25" fill="#a9a9ab" stroke="#a9a9ab" stroke-width="2"/>
<circle cx="591.4" cy="484.4" r="3.25" fill="#a9a9ab" stroke="#a9a9ab" stroke-width="2"/>
<circle cx="617.1" cy="485.3" r="3.25" fill="#a9a9ab" stroke="#a9a9ab" stroke-width="2"/>
<circle cx="642.8" cy="480.6" r="3.25" fill="#a9a9ab" stroke="#a9a9ab" stroke-width="2"/>
<circle cx="668.5" cy="480.5" r="3.25" fill="#a9a9ab" stroke="#a9a9ab" stroke-width="2"/>
<path d="M437.2,395.3 V413.1 M433.3,395.3 H441.09999999999997 M433.3,413.1 H441.09999999999997" stroke="#9dbfe0" stroke-width="2" fill="none"/>
<path d="M462.9,431.6 V441.4 M459.0,431.6 H466.79999999999995 M459.0,441.4 H466.79999999999995" stroke="#9dbfe0" stroke-width="2" fill="none"/>
<path d="M488.59999999999997,441.5 V448.5 M484.7,441.5 H492.49999999999994 M484.7,448.5 H492.49999999999994" stroke="#9dbfe0" stroke-width="2" fill="none"/>
<path d="M514.3,442.5 V449.5 M510.4,442.5 H518.1999999999999 M510.4,449.5 H518.1999999999999" stroke="#9dbfe0" stroke-width="2" fill="none"/>
<path d="M540.0,454 V462 M536.1,454 H543.9 M536.1,462 H543.9" stroke="#9dbfe0" stroke-width="2" fill="none"/>
<path d="M565.7,460 V468 M561.8000000000001,460 H569.6 M561.8000000000001,468 H569.6" stroke="#9dbfe0" stroke-width="2" fill="none"/>
<path d="M591.4,458 V465 M587.5,458 H595.3 M587.5,465 H595.3" stroke="#9dbfe0" stroke-width="2" fill="none"/>
<path d="M617.1,454 V463 M613.2,454 H621.0 M613.2,463 H621.0" stroke="#9dbfe0" stroke-width="2" fill="none"/>
<path d="M642.8,464 V470 M638.9,464 H646.6999999999999 M638.9,470 H646.6999999999999" stroke="#9dbfe0" stroke-width="2" fill="none"/>
<path d="M668.5,477 V483 M664.6,477 H672.4 M664.6,483 H672.4" stroke="#9dbfe0" stroke-width="2" fill="none"/>
<polyline fill="none" stroke="#9dbfe0" stroke-width="2" points="437.2,403.6 462.9,436.3 488.59999999999997,445.1 514.3,446 540.0,458.1 565.7,464 591.4,461.6 617.1,458.4 642.8,467 668.5,480.1"/>
<rect x="434.0" y="400.40000000000003" width="6.4" height="6.4" fill="#fff" stroke="#9dbfe0" stroke-width="2"/>
<rect x="459.7" y="433.1" width="6.4" height="6.4" fill="#fff" stroke="#9dbfe0" stroke-width="2"/>
<rect x="485.4" y="441.90000000000003" width="6.4" height="6.4" fill="#fff" stroke="#9dbfe0" stroke-width="2"/>
<rect x="511.09999999999997" y="442.8" width="6.4" height="6.4" fill="#fff" stroke="#9dbfe0" stroke-width="2"/>
<rect x="536.8" y="454.90000000000003" width="6.4" height="6.4" fill="#fff" stroke="#9dbfe0" stroke-width="2"/>
<rect x="562.5" y="460.8" width="6.4" height="6.4" fill="#fff" stroke="#9dbfe0" stroke-width="2"/>
<rect x="588.1999999999999" y="458.40000000000003" width="6.4" height="6.4" fill="#fff" stroke="#9dbfe0" stroke-width="2"/>
<rect x="613.9" y="455.2" width="6.4" height="6.4" fill="#fff" stroke="#9dbfe0" stroke-width="2"/>
<rect x="639.5999999999999" y="463.8" width="6.4" height="6.4" fill="#fff" stroke="#9dbfe0" stroke-width="2"/>
<rect x="665.3" y="476.90000000000003" width="6.4" height="6.4" fill="#fff" stroke="#9dbfe0" stroke-width="2"/>
<path d="M437.2,316.1 V352.9 M433.3,316.1 H441.09999999999997 M433.3,352.9 H441.09999999999997" stroke="#a9a9ab" stroke-width="2" fill="none"/>
<path d="M462.9,399.7 V423.9 M459.0,399.7 H466.79999999999995 M459.0,423.9 H466.79999999999995" stroke="#a9a9ab" stroke-width="2" fill="none"/>
<path d="M488.59999999999997,433 V447 M484.7,433 H492.49999999999994 M484.7,447 H492.49999999999994" stroke="#a9a9ab" stroke-width="2" fill="none"/>
<path d="M514.3,437.2 V450 M510.4,437.2 H518.1999999999999 M510.4,450 H518.1999999999999" stroke="#a9a9ab" stroke-width="2" fill="none"/>
<path d="M540.0,460 V470 M536.1,460 H543.9 M536.1,470 H543.9" stroke="#a9a9ab" stroke-width="2" fill="none"/>
<path d="M565.7,451 V459 M561.8000000000001,451 H569.6 M561.8000000000001,459 H569.6" stroke="#a9a9ab" stroke-width="2" fill="none"/>
<path d="M591.4,472 V480 M587.5,472 H595.3 M587.5,480 H595.3" stroke="#a9a9ab" stroke-width="2" fill="none"/>
<path d="M617.1,465 V476 M613.2,465 H621.0 M613.2,476 H621.0" stroke="#a9a9ab" stroke-width="2" fill="none"/>
<path d="M642.8,463.4 V470.6 M638.9,463.4 H646.6999999999999 M638.9,470.6 H646.6999999999999" stroke="#a9a9ab" stroke-width="2" fill="none"/>
<path d="M668.5,478 V482 M664.6,478 H672.4 M664.6,482 H672.4" stroke="#a9a9ab" stroke-width="2" fill="none"/>
<polyline fill="none" stroke="#a9a9ab" stroke-width="2" points="437.2,334.6 462.9,412 488.59999999999997,440 514.3,443.8 540.0,465.1 565.7,455 591.4,476.2 617.1,470.5 642.8,467 668.5,480.1"/>
<circle cx="437.2" cy="334.6" r="3.25" fill="#fff" stroke="#a9a9ab" stroke-width="2"/>
<circle cx="462.9" cy="412" r="3.25" fill="#fff" stroke="#a9a9ab" stroke-width="2"/>
<circle cx="488.59999999999997" cy="440" r="3.25" fill="#fff" stroke="#a9a9ab" stroke-width="2"/>
<circle cx="514.3" cy="443.8" r="3.25" fill="#fff" stroke="#a9a9ab" stroke-width="2"/>
<circle cx="540.0" cy="465.1" r="3.25" fill="#fff" stroke="#a9a9ab" stroke-width="2"/>
<circle cx="565.7" cy="455" r="3.25" fill="#fff" stroke="#a9a9ab" stroke-width="2"/>
<circle cx="591.4" cy="476.2" r="3.25" fill="#fff" stroke="#a9a9ab" stroke-width="2"/>
<circle cx="617.1" cy="470.5" r="3.25" fill="#fff" stroke="#a9a9ab" stroke-width="2"/>
<circle cx="642.8" cy="467" r="3.25" fill="#fff" stroke="#a9a9ab" stroke-width="2"/>
<circle cx="668.5" cy="480.1" r="3.25" fill="#fff" stroke="#a9a9ab" stroke-width="2"/>
<line x1="558.5" y1="283.9" x2="582.3" y2="283.9" stroke="#a9a9ab" stroke-width="2"/>
<circle cx="569.9" cy="283.9" r="3.25" fill="#fff" stroke="#a9a9ab" stroke-width="2"/>
<text x="594.60" y="287.80" font-size="10.9" text-anchor="start" font-weight="normal" fill="#222" >Active VEH</text>
<line x1="558.5" y1="300.4" x2="582.3" y2="300.4" stroke="#9dbfe0" stroke-width="2"/>
<rect x="566.6999999999999" y="297.2" width="6.4" height="6.4" fill="#fff" stroke="#9dbfe0" stroke-width="2"/>
<text x="594.60" y="304.30" font-size="10.9" text-anchor="start" font-weight="normal" fill="#222" >Active NAC</text>
<line x1="558.5" y1="317.1" x2="582.3" y2="317.1" stroke="#a9a9ab" stroke-width="2"/>
<circle cx="569.9" cy="317.1" r="3.25" fill="#a9a9ab" stroke="#a9a9ab" stroke-width="2"/>
<text x="594.60" y="321.00" font-size="10.9" text-anchor="start" font-weight="normal" fill="#222" >Inactive VEH</text>
<line x1="558.5" y1="333.6" x2="582.3" y2="333.6" stroke="#9dbfe0" stroke-width="2"/>
<rect x="566.6999999999999" y="330.40000000000003" width="6.4" height="6.4" fill="#9dbfe0" stroke="#9dbfe0" stroke-width="2"/>
<text x="594.60" y="337.50" font-size="10.9" text-anchor="start" font-weight="normal" fill="#222" >Inactive NAC</text>
<text transform="translate(7.40,618.60) scale(0.985,1.14)" x="0" y="0" font-size="30" text-anchor="start" font-weight="bold" fill="#000" >C</text>
<text x="261.80" y="615.80" font-size="17.35" text-anchor="start" font-weight="normal" fill="#111" >Spontaneous Recovery Test</text>
<rect x="81.19999999999999" y="869" width="36.2" height="13" fill="#dcdcdc"/>
<rect x="135.5" y="870.3" width="36.2" height="11.700000000000045" fill="#9dbcdd"/>
<rect x="226.4" y="783.9" width="36.2" height="98.10000000000002" fill="#dcdcdc"/>
<rect x="280.7" y="834" width="36.2" height="48" fill="#9dbcdd"/>
<path d="M99.3,869 V867.2 M93.8,867.2 H104.8" stroke="#000" stroke-width="2" fill="none"/>
<path d="M153.6,870.3 V868.0 M148.1,868.0 H159.1" stroke="#000" stroke-width="2" fill="none"/>
<path d="M244.5,783.9 V768.1 M235.0,768.1 H254.0" stroke="#000" stroke-width="2" fill="none"/>
<path d="M298.8,834 V824.8 M292.8,824.8 H304.8" stroke="#000" stroke-width="2" fill="none"/>
<path d="M63.9,673.5 V882 H334.8" fill="none" stroke="#000" stroke-width="2"/>
<line x1="55.099999999999994" y1="673.7" x2="63.9" y2="673.7" stroke="#000" stroke-width="2"/>
<text transform="translate(53.80,673.70) scale(1,1.15)" x="0" y="5.35" font-size="15" text-anchor="end" font-weight="bold" fill="#000" >120</text>
<line x1="55.099999999999994" y1="708.4200000000001" x2="63.9" y2="708.4200000000001" stroke="#000" stroke-width="2"/>
<text transform="translate(53.80,708.42) scale(1,1.15)" x="0" y="5.35" font-size="15" text-anchor="end" font-weight="bold" fill="#000" >100</text>
<line x1="55.099999999999994" y1="743.1400000000001" x2="63.9" y2="743.1400000000001" stroke="#000" stroke-width="2"/>
<text transform="translate(53.80,743.14) scale(1,1.15)" x="0" y="5.35" font-size="15" text-anchor="end" font-weight="bold" fill="#000" >80</text>
<line x1="55.099999999999994" y1="777.86" x2="63.9" y2="777.86" stroke="#000" stroke-width="2"/>
<text transform="translate(53.80,777.86) scale(1,1.15)" x="0" y="5.35" font-size="15" text-anchor="end" font-weight="bold" fill="#000" >60</text>
<line x1="55.099999999999994" y1="812.58" x2="63.9" y2="812.58" stroke="#000" stroke-width="2"/>
<text transform="translate(53.80,812.58) scale(1,1.15)" x="0" y="5.35" font-size="15" text-anchor="end" font-weight="bold" fill="#000" >40</text>
<line x1="55.099999999999994" y1="847.3000000000001" x2="63.9" y2="847.3000000000001" stroke="#000" stroke-width="2"/>
<text transform="translate(53.80,847.30) scale(1,1.15)" x="0" y="5.35" font-size="15" text-anchor="end" font-weight="bold" fill="#000" >20</text>
<line x1="55.099999999999994" y1="882.02" x2="63.9" y2="882.02" stroke="#000" stroke-width="2"/>
<text transform="translate(53.80,882.02) scale(1,1.15)" x="0" y="5.35" font-size="15" text-anchor="end" font-weight="bold" fill="#000" >0</text>
<line x1="126.6" y1="882" x2="126.6" y2="890.5" stroke="#000" stroke-width="2"/>
<text x="126.60" y="903.60" font-size="12.8" text-anchor="middle" font-weight="bold" fill="#000" >Last Ext Day</text>
<line x1="271.4" y1="882" x2="271.4" y2="890.5" stroke="#000" stroke-width="2"/>
<text x="271.40" y="903.60" font-size="12.8" text-anchor="middle" font-weight="bold" fill="#000" >SR test Day</text>
<text transform="translate(17.1,778) rotate(-90)" x="0" y="0" font-size="16.8" font-weight="bold" text-anchor="middle" textLength="167" lengthAdjust="spacingAndGlyphs">Active nosepokes (1 h)</text>
<rect x="92.1" y="661.2" width="24.7" height="8.5" fill="#dcdcdc"/>
<rect x="92.1" y="676.9" width="24.7" height="8.3" fill="#9dbcdd"/>
<text x="128.60" y="670.00" font-size="12.5" text-anchor="start" font-weight="normal" fill="#111" >VEH</text>
<text x="128.60" y="685.50" font-size="12.5" text-anchor="start" font-weight="normal" fill="#111" >NAC</text>
<line x1="243.6" y1="692.1" x2="299.5" y2="692.1" stroke="#000" stroke-width="2.3"/>
<text x="271.80" y="689.60" font-size="24.5" text-anchor="middle" font-weight="bold" fill="#000" >***</text>
<circle cx="85.2" cy="861.3" r="3.35" fill="#fff" stroke="#000" stroke-width="2.1"/>
<circle cx="85.2" cy="868.1" r="3.35" fill="#fff" stroke="#000" stroke-width="2.1"/>
<circle cx="85.2" cy="876.6" r="3.35" fill="#fff" stroke="#000" stroke-width="2.1"/>
<circle cx="94.9" cy="871.8" r="3.35" fill="#fff" stroke="#000" stroke-width="2.1"/>
<circle cx="104.9" cy="868.2" r="3.35" fill="#fff" stroke="#000" stroke-width="2.1"/>
<circle cx="104.9" cy="876.9" r="3.35" fill="#fff" stroke="#000" stroke-width="2.1"/>
<circle cx="114.8" cy="864.6" r="3.35" fill="#fff" stroke="#000" stroke-width="2.1"/>
<circle cx="114.8" cy="875" r="3.35" fill="#fff" stroke="#000" stroke-width="2.1"/>
<rect x="136.25000000000003" y="860.65" width="6.7" height="6.7" fill="#fff" stroke="#000" stroke-width="2.1"/>
<rect x="136.25000000000003" y="868.8499999999999" width="6.7" height="6.7" fill="#fff" stroke="#000" stroke-width="2.1"/>
<rect x="136.25000000000003" y="875.9499999999999" width="6.7" height="6.7" fill="#fff" stroke="#000" stroke-width="2.1"/>
<rect x="146.45000000000002" y="858.05" width="6.7" height="6.7" fill="#fff" stroke="#000" stroke-width="2.1"/>
<rect x="146.45000000000002" y="870.4499999999999" width="6.7" height="6.7" fill="#fff" stroke="#000" stroke-width="2.1"/>
<rect x="156.05" y="856.55" width="6.7" height="6.7" fill="#fff" stroke="#000" stroke-width="2.1"/>
<rect x="156.05" y="875.3499999999999" width="6.7" height="6.7" fill="#fff" stroke="#000" stroke-width="2.1"/>
<rect x="166.25000000000003" y="859.65" width="6.7" height="6.7" fill="#fff" stroke="#000" stroke-width="2.1"/>
<rect x="166.25000000000003" y="873.9499999999999" width="6.7" height="6.7" fill="#fff" stroke="#000" stroke-width="2.1"/>
<circle cx="244.4" cy="706.8" r="3.35" fill="#fff" stroke="#000" stroke-width="2.1"/>
<circle cx="238.1" cy="746.6" r="3.35" fill="#fff" stroke="#000" stroke-width="2.1"/>
<circle cx="250.7" cy="749.9" r="3.35" fill="#fff" stroke="#000" stroke-width="2.1"/>
<circle cx="238.1" cy="795.3" r="3.35" fill="#fff" stroke="#000" stroke-width="2.1"/>
<circle cx="250.7" cy="797" r="3.35" fill="#fff" stroke="#000" stroke-width="2.1"/>
<circle cx="244.4" cy="813" r="3.35" fill="#fff" stroke="#000" stroke-width="2.1"/>
<circle cx="238.1" cy="831.6" r="3.35" fill="#fff" stroke="#000" stroke-width="2.1"/>
<circle cx="250.7" cy="830.2" r="3.35" fill="#fff" stroke="#000" stroke-width="2.1"/>
<rect x="295.25" y="773.2499999999999" width="6.7" height="6.7" fill="#fff" stroke="#000" stroke-width="2.1"/>
<rect x="295.25" y="816.4499999999999" width="6.7" height="6.7" fill="#fff" stroke="#000" stroke-width="2.1"/>
<rect x="288.75" y="826.55" width="6.7" height="6.7" fill="#fff" stroke="#000" stroke-width="2.1"/>
<rect x="301.65" y="823.55" width="6.7" height="6.7" fill="#fff" stroke="#000" stroke-width="2.1"/>
<rect x="295.25" y="835.55" width="6.7" height="6.7" fill="#fff" stroke="#000" stroke-width="2.1"/>
<rect x="288.75" y="846.2499999999999" width="6.7" height="6.7" fill="#fff" stroke="#000" stroke-width="2.1"/>
<rect x="301.65" y="844.15" width="6.7" height="6.7" fill="#fff" stroke="#000" stroke-width="2.1"/>
<rect x="301.65" y="851.65" width="6.7" height="6.7" fill="#fff" stroke="#000" stroke-width="2.1"/>
<rect x="295.25" y="861.65" width="6.7" height="6.7" fill="#fff" stroke="#000" stroke-width="2.1"/>
<rect x="430.7" y="870.7" width="36.2" height="9.799999999999955" fill="#dcdcdc"/>
<rect x="484.9" y="870.2" width="36.2" height="10.299999999999955" fill="#9dbcdd"/>
<rect x="574.9" y="867.2" width="36.2" height="13.299999999999955" fill="#dcdcdc"/>
<rect x="629.5" y="866.2" width="36.2" height="14.299999999999955" fill="#9dbcdd"/>
<path d="M448.8,870.7 V868.9 M443.3,868.9 H454.3" stroke="#000" stroke-width="2" fill="none"/>
<path d="M500.2,870.2 V868.3 M493.7,868.3 H506.7" stroke="#000" stroke-width="2" fill="none"/>
<path d="M591.0,867.2 V862.4 M583.7,862.4 H598.3" stroke="#000" stroke-width="2" fill="none"/>
<path d="M644.0,866.2 V862.0 M638.5,862.0 H649.5" stroke="#000" stroke-width="2" fill="none"/>
<path d="M413.1,672.4 V880.5 H684.1" fill="none" stroke="#000" stroke-width="2"/>
<line x1="404.3" y1="672.4" x2="413.1" y2="672.4" stroke="#000" stroke-width="2"/>
<text transform="translate(402.70,672.40) scale(1,1.15)" x="0" y="5.35" font-size="15" text-anchor="end" font-weight="bold" fill="#000" >120</text>
<line x1="404.3" y1="707.0799999999999" x2="413.1" y2="707.0799999999999" stroke="#000" stroke-width="2"/>
<text transform="translate(402.70,707.08) scale(1,1.15)" x="0" y="5.35" font-size="15" text-anchor="end" font-weight="bold" fill="#000" >100</text>
<line x1="404.3" y1="741.76" x2="413.1" y2="741.76" stroke="#000" stroke-width="2"/>
<text transform="translate(402.70,741.76) scale(1,1.15)" x="0" y="5.35" font-size="15" text-anchor="end" font-weight="bold" fill="#000" >80</text>
<line x1="404.3" y1="776.4399999999999" x2="413.1" y2="776.4399999999999" stroke="#000" stroke-width="2"/>
<text transform="translate(402.70,776.44) scale(1,1.15)" x="0" y="5.35" font-size="15" text-anchor="end" font-weight="bold" fill="#000" >60</text>
<line x1="404.3" y1="811.12" x2="413.1" y2="811.12" stroke="#000" stroke-width="2"/>
<text transform="translate(402.70,811.12) scale(1,1.15)" x="0" y="5.35" font-size="15" text-anchor="end" font-weight="bold" fill="#000" >40</text>
<line x1="404.3" y1="845.8" x2="413.1" y2="845.8" stroke="#000" stroke-width="2"/>
<text transform="translate(402.70,845.80) scale(1,1.15)" x="0" y="5.35" font-size="15" text-anchor="end" font-weight="bold" fill="#000" >20</text>
<line x1="404.3" y1="880.48" x2="413.1" y2="880.48" stroke="#000" stroke-width="2"/>
<text transform="translate(402.70,880.48) scale(1,1.15)" x="0" y="5.35" font-size="15" text-anchor="end" font-weight="bold" fill="#000" >0</text>
<line x1="475.9" y1="880.5" x2="475.9" y2="888.9" stroke="#000" stroke-width="2"/>
<text x="475.90" y="902.00" font-size="12.8" text-anchor="middle" font-weight="bold" fill="#000" >Last Ext Day</text>
<line x1="619.9" y1="880.5" x2="619.9" y2="888.9" stroke="#000" stroke-width="2"/>
<text x="619.90" y="902.00" font-size="12.8" text-anchor="middle" font-weight="bold" fill="#000" >SR test Day</text>
<text transform="translate(358.1,776.9) rotate(-90)" x="0" y="0" font-size="16.8" font-weight="bold" text-anchor="middle" textLength="175" lengthAdjust="spacingAndGlyphs">Inactive nosepokes (1 h)</text>
<circle cx="434.2" cy="865.3" r="3.35" fill="#fff" stroke="#000" stroke-width="2.1"/>
<circle cx="441.9" cy="870.4" r="3.35" fill="#fff" stroke="#000" stroke-width="2.1"/>
<circle cx="441.9" cy="877.4" r="3.35" fill="#fff" stroke="#000" stroke-width="2.1"/>
<circle cx="449.2" cy="866.8" r="3.35" fill="#fff" stroke="#000" stroke-width="2.1"/>
<circle cx="449.2" cy="875.5" r="3.35" fill="#fff" stroke="#000" stroke-width="2.1"/>
<circle cx="456.5" cy="869.0" r="3.35" fill="#fff" stroke="#000" stroke-width="2.1"/>
<circle cx="456.5" cy="876.3" r="3.35" fill="#fff" stroke="#000" stroke-width="2.1"/>
<circle cx="463.8" cy="869.0" r="3.35" fill="#fff" stroke="#000" stroke-width="2.1"/>
<rect x="485.25" y="862.2499999999999" width="6.7" height="6.7" fill="#fff" stroke="#000" stroke-width="2.1"/>
<rect x="485.25" y="869.2499999999999" width="6.7" height="6.7" fill="#fff" stroke="#000" stroke-width="2.1"/>
<rect x="485.25" y="876.55" width="6.7" height="6.7" fill="#fff" stroke="#000" stroke-width="2.1"/>
<rect x="495.15" y="861.9499999999999" width="6.7" height="6.7" fill="#fff" stroke="#000" stroke-width="2.1"/>
<rect x="495.15" y="871.3499999999999" width="6.7" height="6.7" fill="#fff" stroke="#000" stroke-width="2.1"/>
<rect x="504.95" y="863.7499999999999" width="6.7" height="6.7" fill="#fff" stroke="#000" stroke-width="2.1"/>
<rect x="504.95" y="871.3499999999999" width="6.7" height="6.7" fill="#fff" stroke="#000" stroke-width="2.1"/>
<rect x="515.15" y="861.9499999999999" width="6.7" height="6.7" fill="#fff" stroke="#000" stroke-width="2.1"/>
<rect x="515.15" y="871.3499999999999" width="6.7" height="6.7" fill="#fff" stroke="#000" stroke-width="2.1"/>
<circle cx="593.5" cy="847.9" r="3.35" fill="#fff" stroke="#000" stroke-width="2.1"/>
<circle cx="593.5" cy="858.3" r="3.35" fill="#fff" stroke="#000" stroke-width="2.1"/>
<circle cx="588.1" cy="865.5" r="3.35" fill="#fff" stroke="#000" stroke-width="2.1"/>
<circle cx="598.5" cy="866.7" r="3.35" fill="#fff" stroke="#000" stroke-width="2.1"/>
<circle cx="578.4" cy="870.5" r="3.35" fill="#fff" stroke="#000" stroke-width="2.1"/>
<circle cx="608.6" cy="867.2" r="3.35" fill="#fff" stroke="#000" stroke-width="2.1"/>
<circle cx="598.5" cy="874.2" r="3.35" fill="#fff" stroke="#000" stroke-width="2.1"/>
<circle cx="588.5" cy="879.6" r="3.35" fill="#fff" stroke="#000" stroke-width="2.1"/>
<rect x="649.2499999999999" y="841.2499999999999" width="6.7" height="6.7" fill="#fff" stroke="#000" stroke-width="2.1"/>
<rect x="639.4499999999999" y="846.8499999999999" width="6.7" height="6.7" fill="#fff" stroke="#000" stroke-width="2.1"/>
<rect x="639.4499999999999" y="856.8499999999999" width="6.7" height="6.7" fill="#fff" stroke="#000" stroke-width="2.1"/>
<rect x="649.2499999999999" y="862.4499999999999" width="6.7" height="6.7" fill="#fff" stroke="#000" stroke-width="2.1"/>
<rect x="639.4499999999999" y="865.7499999999999" width="6.7" height="6.7" fill="#fff" stroke="#000" stroke-width="2.1"/>
<rect x="629.3499999999999" y="874.55" width="6.7" height="6.7" fill="#fff" stroke="#000" stroke-width="2.1"/>
<rect x="639.4499999999999" y="872.55" width="6.7" height="6.7" fill="#fff" stroke="#000" stroke-width="2.1"/>
<rect x="649.2499999999999" y="874.55" width="6.7" height="6.7" fill="#fff" stroke="#000" stroke-width="2.1"/>
<rect x="658.9499999999999" y="874.55" width="6.7" height="6.7" fill="#fff" stroke="#000" stroke-width="2.1"/>
</svg>
</body></html>
